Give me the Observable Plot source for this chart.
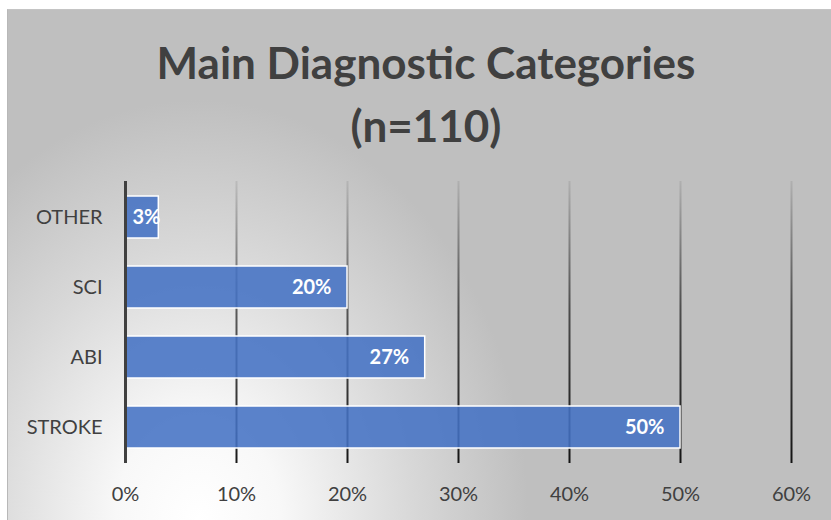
<!DOCTYPE html>
<html>
<head>
<meta charset="utf-8">
<script src="https://cdn.jsdelivr.net/npm/d3@7"></script>
<script src="https://cdn.jsdelivr.net/npm/@observablehq/plot@0.6"></script>
<style>
  html, body { margin: 0; padding: 0; background: #fff; width: 831px; height: 520px; overflow: hidden; }
  #frame {
    position: absolute; left: 7px; top: 9px; width: 840px; height: 520px;
    border-left: 1px solid #b8b8b8; border-top: 1px solid #c4c4c4;
    background: radial-gradient(ellipse 330px 420px at 190px 510px, #ffffff 0%, #f8f8f8 25%, #d8d8d8 65%, #bfbfbf 100%);
  }
  #title {
    position: absolute; left: 8px; top: 31px; width: 836px; text-align: center;
    font-family: Lato, "Open Sans", sans-serif; font-weight: bold; font-size: 44px;
    line-height: 63px; color: #404040;
  }
  #chart { position: absolute; left: 0; top: 170px; }
</style>
</head>
<body>
<div id="frame"></div>
<div id="title">Main Diagnostic Categories<br>(n=110)</div>
<div id="chart"></div>
<script>
const categories = ["OTHER", "SCI", "ABI", "STROKE"];
const values = [3, 20, 27, 50];
const xTicks = [0, 10, 20, 30, 40, 50, 60];
const gridValues = [10, 20, 30, 40, 50, 60];

const data = categories.map((c, i) => ({category: c, value: values[i]}));

const plot = Plot.plot({
  width: 831,
  height: 350,
  marginLeft: 125,
  marginRight: 40,
  marginTop: 11,
  marginBottom: 57,
  style: {fontFamily: "Lato, 'Open Sans', sans-serif", fontSize: "20px", color: "#404040", background: "transparent", overflow: "visible"},
  x: {domain: [0, 60], ticks: xTicks, tickFormat: d => d + "%", tickSize: 0, tickPadding: 23, label: null},
  y: {domain: categories, paddingInner: 0.4, paddingOuter: 0.2, tickSize: 0, tickPadding: 23, label: null},
  marks: [
    Plot.ruleX(gridValues, {x: d => d, stroke: "#000", strokeWidth: 2, className: "grid"}),
    Plot.barX(data, {x: "value", y: "category", fill: "#4472C4", fillOpacity: 0.88, stroke: "#fff", strokeWidth: 1.5}),
    Plot.ruleX([0], {stroke: "#404040", strokeWidth: 3}),
    Plot.text(data.filter(d => d.value >= 10), {x: "value", y: "category", text: d => d.value + "%", textAnchor: "end", dx: -16, fill: "#fff", fontWeight: "bold", fontSize: 20}),
    Plot.text(data.filter(d => d.value < 10), {x: 0, y: "category", text: d => d.value + "%", textAnchor: "start", dx: 7, fill: "#fff", fontWeight: "bold", fontSize: 20})
  ]
});

// vertical fading gradient for the gridlines
const svg = d3.select(plot);
const defs = svg.insert("defs", ":first-child");
const grad = defs.append("linearGradient")
  .attr("id", "gridFade").attr("gradientUnits", "userSpaceOnUse")
  .attr("x1", 0).attr("x2", 0).attr("y1", 11).attr("y2", 293);
grad.append("stop").attr("offset", "0%").attr("stop-color", "#000").attr("stop-opacity", 0.08);
grad.append("stop").attr("offset", "45%").attr("stop-color", "#000").attr("stop-opacity", 0.6);
grad.append("stop").attr("offset", "100%").attr("stop-color", "#000").attr("stop-opacity", 0.9);
svg.selectAll(".grid").attr("stroke", "url(#gridFade)");

document.getElementById("chart").appendChild(plot);
</script>
</body>
</html>
